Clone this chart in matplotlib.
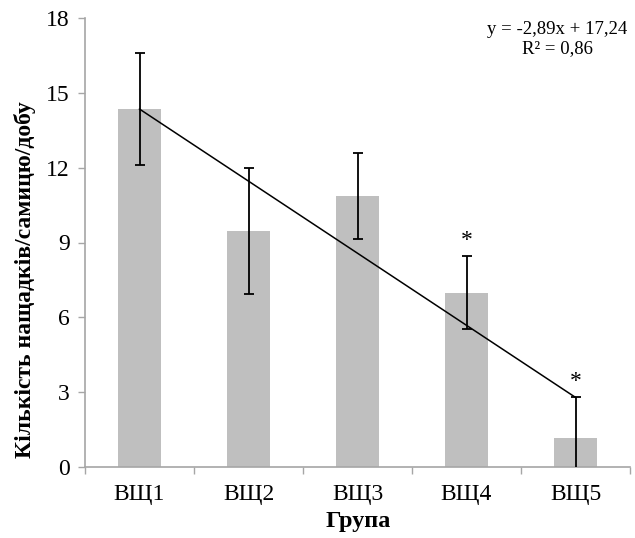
import matplotlib
matplotlib.use("Agg")
import matplotlib.pyplot as plt
import numpy as np

categories = ["ВЩ1", "ВЩ2", "ВЩ3", "ВЩ4", "ВЩ5"]
values = [14.34, 9.46, 10.87, 6.99, 1.15]
errors = [2.25, 2.54, 1.72, 1.45, 1.64]
significant = [False, False, False, True, True]
slope, intercept = -2.89, 17.24
r2 = 0.86
yticks = [0, 3, 6, 9, 12, 15, 18]

plt.rcParams['font.family'] = ['Liberation Serif', 'DejaVu Serif']

fig = plt.figure(figsize=(6.35, 5.38), dpi=100)
W, H = 635, 538
ax = fig.add_axes([85 / W, 1 - 467 / H, (630 - 85) / W, (467 - 18) / H])

x = np.arange(len(categories))
ax.bar(x, values, width=0.4, color="#bfbfbf", zorder=2)
ax.errorbar(x, values, yerr=errors, fmt="none", ecolor="black", elinewidth=1.3,
            capsize=3.5, capthick=1.3, zorder=3)

xs = np.arange(1, len(categories) + 1)
ax.plot(x, slope * xs + intercept, color="black", lw=1.1, zorder=4)

for xi, v, e, s in zip(x, values, errors, significant):
    if s:
        ax.annotate("*", (xi, v + e), xytext=(0, 4), textcoords="offset points",
                    ha="center", va="bottom", fontsize=17)

ax.set_xlim(-0.5, len(categories) - 0.5)
ax.set_ylim(0, 18)
ax.set_yticks(yticks)
ax.set_yticklabels([str(t) for t in yticks], fontsize=17)
ax.set_xticks(x)
ax.set_xticklabels(categories, fontsize=17)
ax.set_xticks(np.arange(-0.5, len(categories)), minor=True)
ax.tick_params(axis="x", which="major", length=0, pad=12)
ax.tick_params(axis="x", which="minor", length=5, color="#a6a6a6", width=1)
ax.tick_params(axis="y", length=5, color="#a6a6a6", width=1, pad=6)

for side in ["top", "right"]:
    ax.spines[side].set_visible(False)
for side in ["left", "bottom"]:
    ax.spines[side].set_color("#a6a6a6")
    ax.spines[side].set_linewidth(1.2)

fig.text(358 / W, 1 - 521 / H, "Група", fontsize=17.5, fontweight="bold",
         ha="center", va="center")
fig.text(25 / W, 1 - 280 / H, "Кількість нащадків/самицю/добу", fontsize=17,
         fontweight="bold", rotation=90, ha="center", va="center")

eq = f"y = {slope:.2f}x + {intercept:.2f}".replace(".", ",")
r2s = f"R² = {r2:.2f}".replace(".", ",")
fig.text(557 / W, 1 - 39 / H, eq + "\n" + r2s, ha="center", va="center",
         fontsize=13.5, linespacing=1.2)

fig.savefig("out.png", dpi=100)
